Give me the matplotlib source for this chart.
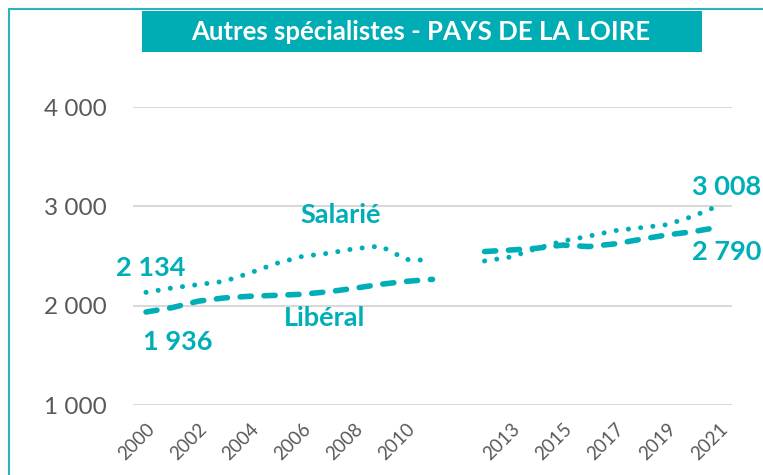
import numpy as np
import matplotlib
matplotlib.use("Agg")
import matplotlib.pyplot as plt
from matplotlib.patches import Rectangle
from matplotlib.ticker import FuncFormatter

plt.rcParams['font.family'] = ['Lato', 'DejaVu Sans']

# categories (one empty slot between 2011 and 2012)
categories = [str(y) for y in range(2000, 2012)] + [''] + [str(y) for y in range(2012, 2022)]
salarie = [2134, 2178, 2212, 2245, 2330, 2425, 2496, 2528, 2573, 2600, 2465, 2455, np.nan,
           2450, 2490, 2575, 2650, 2700, 2755, 2785, 2815, 2900, 3008]
liberal = [1936, 1980, 2045, 2078, 2095, 2104, 2115, 2140, 2175, 2215, 2245, 2265, np.nan,
           2545, 2560, 2578, 2610, 2595, 2622, 2668, 2712, 2745, 2790]
yticks = [1000, 2000, 3000, 4000]

teal = '#00AEB8'
grey_txt = '#595959'

W, H = 763, 475
fig = plt.figure(figsize=(W / 100, H / 100), dpi=100)
ax = fig.add_axes([133 / W, (H - 405) / H, (732 - 133) / W, (405 - 107) / H])

x = np.arange(len(categories))
ax.plot(x, salarie, color=teal, lw=3.6, dashes=[0.01, 2.45],
        dash_capstyle='round', solid_capstyle='round')
ax.plot(x, liberal, color=teal, lw=4.0, dashes=[2.0, 2.3],
        dash_capstyle='round', solid_capstyle='round')

ax.set_xlim(-0.5, len(categories) - 0.5)
ax.set_ylim(1000, 4000)
ax.set_yticks(yticks)
ax.yaxis.set_major_formatter(FuncFormatter(lambda v, p: f"{v:,.0f}".replace(",", " ")))
ax.grid(axis='y', color='#D9D9D9', lw=1.5)
ax.set_axisbelow(True)
for s in ax.spines.values():
    s.set_visible(False)
ax.tick_params(axis='y', length=0, pad=19, labelsize=17.5, labelcolor=grey_txt)
ax.set_xticks(x[::2])
ax.set_xticklabels(categories[::2], rotation=45, ha='right', rotation_mode='anchor',
                   fontsize=13.5, color=grey_txt)
ax.tick_params(axis='x', length=0, pad=11)

# data labels
lab = dict(color=teal, fontsize=19.5, fontweight='bold', ha='center', va='center',
           textcoords='offset points', annotation_clip=False)
ax.annotate("2 134", xy=(0, salarie[0]), xytext=(3.6, 17.6), **lab)
ax.annotate("1 936", xy=(0, liberal[0]), xytext=(23, -21.6), **lab)
ax.annotate("3 008", xy=(x[-1], salarie[-1]), xytext=(5.8, 13.5), **lab)
ax.annotate("2 790", xy=(x[-1], liberal[-1]), xytext=(5.8, -17.9), **lab)
ax.text(7.49, 2913, "Salarié", color=teal, fontsize=19.5, fontweight='bold', ha='center', va='center')
ax.text(6.87, 1876, "Libéral", color=teal, fontsize=19.5, fontweight='bold', ha='center', va='center')

# title box
fig.patches.append(Rectangle((142 / W, (H - 52) / H), 560 / W, 41 / H,
                             transform=fig.transFigure, facecolor='#00ADB5', edgecolor='none'))
fig.text(421 / W, (H - 32) / H, "Autres spécialistes - PAYS DE LA LOIRE", color='white',
         fontsize=18.5, fontweight='bold', ha='center', va='center')

# outer frame (right and bottom edges are off the picture)
fig.patches.append(Rectangle((9 / W, -0.05), 1.1, (H - 9) / H + 0.05,
                             transform=fig.transFigure, facecolor='none',
                             edgecolor='#2DB3BC', lw=1.5))

fig.savefig("out.png", dpi=100)
